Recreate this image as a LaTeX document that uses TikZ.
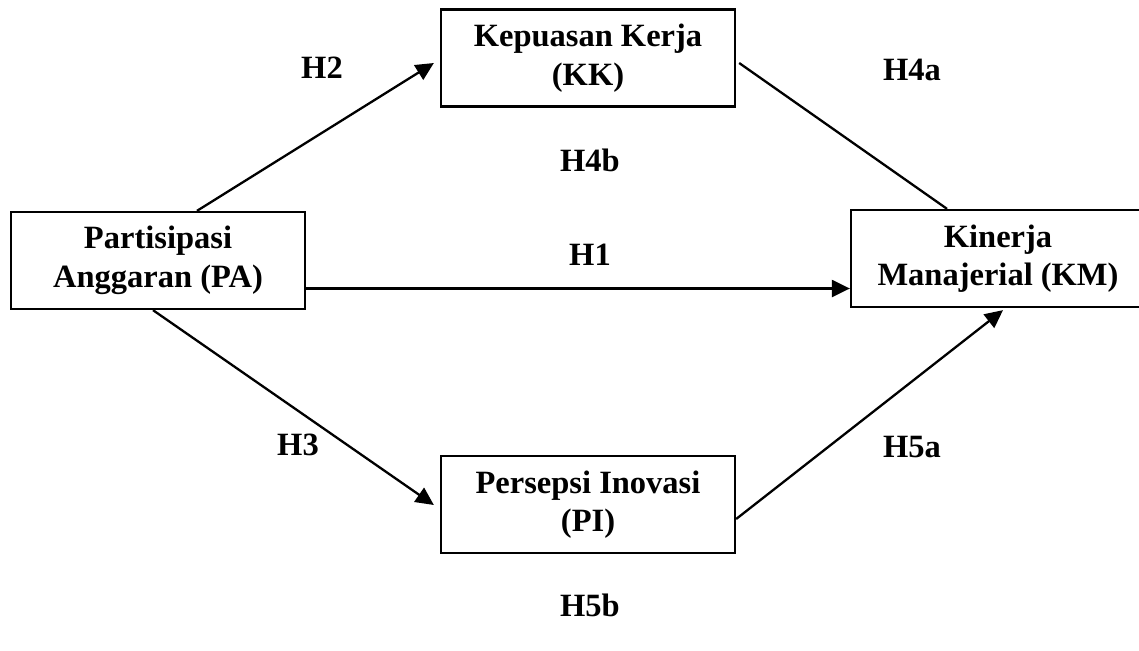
\documentclass[tikz,border=0pt]{standalone}
\usepackage{fontspec}
\setmainfont{Liberation Serif}
\usetikzlibrary{arrows.meta,calc}
\begin{document}
\begin{tikzpicture}[x=1pt,y=-1pt,
  box/.style={draw,line width=2.3pt,minimum width=294pt,minimum height=97pt,inner sep=0pt,align=center,
    font=\fontsize{32.5}{38.5}\selectfont\bfseries},
  lbl/.style={font=\fontsize{32.5}{38.5}\selectfont\bfseries,inner sep=0pt},
  arr/.style={line width=2.3pt,-{Triangle[length=18pt,width=17pt]}},
  ln/.style={line width=2.3pt}]
\useasboundingbox (0,0) rectangle (1139,650);
\node[box] (PA) at (158,260.5) {Partisipasi\\Anggaran (PA)};
\node[box] (KK) at (588,58) {Kepuasan Kerja\\(KK)};
\node[box,minimum width=340pt] (KM) at (1021,258.5) {\hspace*{-46pt}Kinerja\\\hspace*{-46pt}Manajerial (KM)};
\node[box] (PI) at (588,504.5) {Persepsi Inovasi\\(PI)};
\draw[arr] ($(PA.north)+(39,0)$) -- ($(KK.west)+(-6,5)$);
\draw[ln] ($(KK.east)+(3,5)$) -- ($(KM.north)+(-74,0)$);
\draw[arr] ($(PA.east)+(0,28)$) -- ($(KM.west)+(0,30)$);
\draw[arr] ($(PA.south)+(-5,0)$) -- ($(PI.west)+(-6,0.5)$);
\draw[arr] ($(PI.east)+(0,14.5)$) -- ($(KM.south)+(-18,2)$);
\node[lbl] (h2) at (322,68) {H2};
\node[lbl] (h4a) at (912,70) {H4a};
\node[lbl] (h4b) at (590,160) {H4b};
\node[lbl] (h1) at (590,255) {H1};
\node[lbl] (h3) at (298,445) {H3};
\node[lbl] (h5a) at (912,447) {H5a};
\node[lbl] (h5b) at (590,605) {H5b};
\end{tikzpicture}
\end{document}
